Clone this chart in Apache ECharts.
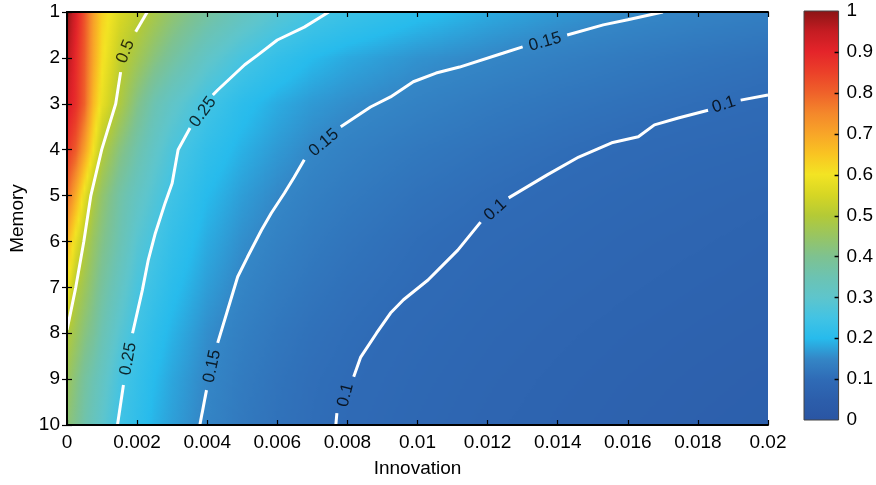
<!DOCTYPE html>
<html>
<head>
<meta charset="utf-8">
<script src="https://cdn.jsdelivr.net/npm/echarts@6/dist/echarts.min.js"></script>
<style>
  html, body { margin: 0; background: #fff; }
  #chart { width: 876px; height: 485px; }
</style>
</head>
<body>
<div id="chart"></div>
<script>
// x samples (innovation) and rows (memory) of the surface
const innovation = [0, 0.00025, 0.0005, 0.00075, 0.001, 0.0015, 0.002, 0.0025, 0.003, 0.004,
  0.005, 0.006, 0.007, 0.008, 0.01, 0.012, 0.014, 0.016, 0.018, 0.02];
const memory = [1, 2, 3, 4, 5, 6, 7, 8, 9, 10];

// values, one row per memory value
const level = [
  [1.00, 0.92, 0.82, 0.71, 0.63, 0.56, 0.52, 0.48, 0.44, 0.38, 0.33, 0.29, 0.26, 0.24, 0.21, 0.185, 0.168, 0.155, 0.145, 0.137],
  [0.97, 0.89, 0.81, 0.70, 0.61, 0.52, 0.47, 0.42, 0.38, 0.31, 0.26, 0.225, 0.20, 0.183, 0.162, 0.15, 0.138, 0.128, 0.119, 0.112],
  [0.93, 0.88, 0.80, 0.67, 0.58, 0.49, 0.41, 0.35, 0.31, 0.25, 0.21, 0.185, 0.168, 0.157, 0.142, 0.129, 0.119, 0.111, 0.104, 0.098],
  [0.87, 0.81, 0.71, 0.60, 0.50, 0.42, 0.36, 0.31, 0.27, 0.22, 0.19, 0.168, 0.151, 0.14, 0.125, 0.114, 0.105, 0.097, 0.091, 0.086],
  [0.79, 0.69, 0.58, 0.49, 0.44, 0.37, 0.32, 0.28, 0.245, 0.20, 0.172, 0.152, 0.138, 0.128, 0.113, 0.103, 0.095, 0.088, 0.082, 0.077],
  [0.68, 0.58, 0.50, 0.45, 0.41, 0.35, 0.29, 0.255, 0.225, 0.185, 0.158, 0.141, 0.128, 0.118, 0.104, 0.095, 0.088, 0.081, 0.076, 0.071],
  [0.60, 0.50, 0.46, 0.42, 0.38, 0.32, 0.265, 0.235, 0.208, 0.172, 0.147, 0.131, 0.119, 0.11, 0.099, 0.089, 0.082, 0.076, 0.071, 0.066],
  [0.50, 0.46, 0.42, 0.39, 0.35, 0.29, 0.245, 0.215, 0.192, 0.158, 0.137, 0.122, 0.111, 0.104, 0.093, 0.084, 0.077, 0.071, 0.066, 0.062],
  [0.46, 0.42, 0.38, 0.35, 0.32, 0.26, 0.228, 0.20, 0.18, 0.15, 0.13, 0.116, 0.106, 0.10, 0.089, 0.08, 0.073, 0.067, 0.062, 0.058],
  [0.43, 0.40, 0.36, 0.33, 0.30, 0.245, 0.218, 0.192, 0.174, 0.146, 0.126, 0.113, 0.104, 0.097, 0.086, 0.077, 0.07, 0.064, 0.059, 0.055]
];

// contour lines [innovation, memory], split where the labels sit
const contour050 = [
  [[0.00229, 1], [0.00196, 1.43]],
  [[0.00153, 2.31], [0.00139, 3], [0.00099, 4], [0.00068, 5], [0.00048, 6], [0.00025, 7], [0, 7.93]]
];
const contour025 = [
  [[0.00747, 1], [0.00677, 1.33], [0.006, 1.61], [0.00544, 1.94], [0.00507, 2.15], [0.0043, 2.7], [0.00416, 2.81]],
  [[0.00351, 3.53], [0.00317, 4.0], [0.003, 4.73], [0.0028, 5.16], [0.00252, 5.82], [0.00232, 6.4], [0.00215, 7.06], [0.00187, 8.0]],
  [[0.00161, 9.13], [0.00144, 10]]
];
const contour015 = [
  [[0.017, 1], [0.016, 1.17], [0.0153, 1.28], [0.01427, 1.5]],
  [[0.013, 1.76], [0.01243, 1.9], [0.0112, 2.2], [0.01053, 2.33], [0.00988, 2.52], [0.00923, 2.85], [0.00866, 3.07], [0.00781, 3.5]],
  [[0.00677, 4.22], [0.00648, 4.6], [0.0062, 4.95], [0.00583, 5.38], [0.00555, 5.75], [0.00515, 6.34], [0.00487, 6.77], [0.0047, 7.2], [0.0043, 8.21]],
  [[0.00398, 9.24], [0.00379, 10]]
];
const contour010 = [
  [[0.02, 2.81], [0.01922, 2.92]],
  [[0.01829, 3.14], [0.01744, 3.31], [0.01676, 3.46], [0.0163, 3.72], [0.01554, 3.85], [0.0146, 4.16], [0.0137, 4.55], [0.0126, 5.05]],
  [[0.0118, 5.58], [0.01115, 6.19], [0.01073, 6.51], [0.0103, 6.84], [0.0096, 7.27], [0.00923, 7.56], [0.00883, 8.0], [0.00838, 8.52], [0.00818, 8.95]],
  [[0.0077, 9.74], [0.00767, 10]]
];

// contour labels: [innovation, memory, text, angle]
const contourLabels = [
  [0.00167, 1.86, '0.5', 68],
  [0.00388, 3.18, '0.25', 54],
  [0.00175, 8.56, '0.25', 80],
  [0.01364, 1.65, '0.15', 16],
  [0.00733, 3.85, '0.15', 40],
  [0.00414, 8.72, '0.15', 78],
  [0.01874, 3.02, '0.1', 18],
  [0.01222, 5.31, '0.1', 42],
  [0.00795, 9.35, '0.1', 76]
];

const colorTicks = [0, 0.1, 0.2, 0.3, 0.4, 0.5, 0.6, 0.7, 0.8, 0.9, 1];

// colormap
const cmapPos = [0, 0.05, 0.1, 0.15, 0.2, 0.25, 0.3, 0.35, 0.4, 0.45, 0.5, 0.55, 0.6, 0.65, 0.7, 0.75, 0.8, 0.85, 0.9, 0.95, 1];
const cmapHex = ['#2a55a3', '#2c5eab', '#2f6bb6', '#3486c6', '#27bbec', '#42c3e4', '#5ec5cc', '#6cc3b2', '#7ec290', '#98c562',
  '#b4ca36', '#d6d624', '#f3e423', '#f9c422', '#f8a528', '#f4872b', '#ef612a', '#eb4029', '#e4242a', '#c41c22', '#8a1515'];
const cmapRgb = cmapHex.map(h => [1, 3, 5].map(k => parseInt(h.substr(k, 2), 16)));

function cmap(v) {
  v = Math.max(0, Math.min(1, v));
  let i = 0;
  while (i < cmapPos.length - 2 && v > cmapPos[i + 1]) i++;
  const t = (v - cmapPos[i]) / (cmapPos[i + 1] - cmapPos[i]);
  const a = cmapRgb[i], b = cmapRgb[i + 1];
  return 'rgb(' + a.map((c, k) => Math.round(c + (b[k] - c) * t)).join(',') + ')';
}

// one item per band between two memory rows, shaded along x and y
function renderBand(params, api) {
  const j = api.value(4);
  const xs = innovation.map(x => api.coord([x, memory[j]])[0]);
  const yTop = api.coord([0, memory[j]])[1];
  const yBot = api.coord([0, memory[j + 1]])[1];
  const xL = xs[0];
  const W = xs[xs.length - 1] - xL;
  const h = yBot - yTop;
  const n = Math.max(1, Math.ceil(h / 2));
  const children = [];
  for (let s = 0; s < n; s++) {
    const t = (s + 0.5) / n;
    const row = innovation.map((_, i) => level[j][i] + (level[j + 1][i] - level[j][i]) * t);
    const stops = [];
    for (let i = 0; i < xs.length - 1; i++) {
      const K = Math.max(1, Math.ceil((xs[i + 1] - xs[i]) / 3));
      for (let k = 0; k < K; k++) {
        const u = k / K;
        stops.push({
          offset: (xs[i] + u * (xs[i + 1] - xs[i]) - xL) / W,
          color: cmap(row[i] + (row[i + 1] - row[i]) * u)
        });
      }
    }
    stops.push({ offset: 1, color: cmap(row[row.length - 1]) });
    children.push({
      type: 'rect',
      shape: { x: xL, y: yTop + s * h / n, width: W, height: h / n + 0.8 },
      style: { fill: new echarts.graphic.LinearGradient(0, 0, 1, 0, stops) },
      silent: true
    });
  }
  return { type: 'group', children: children };
}

// colour bar with its inner ticks on the right edge
function renderColorBar(params, api) {
  const p0 = api.coord([0, 1]);
  const p1 = api.coord([1, 0]);
  const stops = cmapPos.map((p, i) => ({ offset: p, color: cmapHex[i] }));
  const children = [{
    type: 'rect',
    shape: { x: p0[0], y: p0[1], width: p1[0] - p0[0], height: p1[1] - p0[1] },
    style: { fill: new echarts.graphic.LinearGradient(0, 1, 0, 0, stops), stroke: '#444', lineWidth: 1 }
  }];
  colorTicks.slice(1, -1).forEach(v => {
    const y = Math.round(api.coord([1, v])[1]) + 0.5;
    children.push({
      type: 'line',
      shape: { x1: p1[0] - 4, y1: y, x2: p1[0], y2: y },
      style: { stroke: '#000', lineWidth: 1.5 }
    });
  });
  return { type: 'group', children: children };
}

const font = "'Liberation Sans', Arial, sans-serif";
const axisBase = {
  axisLine: { lineStyle: { color: '#000', width: 2 } },
  axisTick: { inside: true, length: 5, lineStyle: { color: '#000', width: 1.2 } },
  splitLine: { show: false },
  z: 10
};

const series = [{
  type: 'custom',
  xAxisIndex: 0,
  yAxisIndex: 0,
  renderItem: renderBand,
  encode: { x: [0, 1], y: [2, 3] },
  data: memory.slice(0, -1).map((m, j) => [innovation[0], innovation[innovation.length - 1], m, memory[j + 1], j]),
  clip: true,
  silent: true,
  z: 1
}];

[contour050, contour025, contour015, contour010].forEach(c => {
  c.forEach(seg => {
    series.push({
      type: 'line',
      xAxisIndex: 0,
      yAxisIndex: 0,
      data: seg,
      symbol: 'none',
      lineStyle: { color: '#fff', width: 3 },
      silent: true,
      z: 3
    });
  });
});

series.push({
  type: 'scatter',
  xAxisIndex: 0,
  yAxisIndex: 0,
  symbolSize: 1,
  itemStyle: { color: 'rgba(0,0,0,0)' },
  silent: true,
  z: 4,
  data: contourLabels.map(l => ({
    value: [l[0], l[1]],
    label: {
      show: true, position: 'inside', formatter: l[2], rotate: l[3],
      fontSize: 17, color: '#000', fontFamily: font
    }
  }))
});

series.push({
  type: 'custom',
  xAxisIndex: 2,
  yAxisIndex: 2,
  renderItem: renderColorBar,
  data: [[0, 0]],
  silent: true,
  z: 1
});

const chart = echarts.init(document.getElementById('chart'));
chart.setOption({
  animation: false,
  backgroundColor: '#fff',
  textStyle: { fontFamily: font },
  grid: [
    { left: 61, top: 12, width: 707, height: 413 },
    { left: 804, top: 11, width: 36, height: 409 }
  ],
  xAxis: [
    Object.assign({}, axisBase, {
      gridIndex: 0, type: 'value', position: 'bottom',
      min: 0, max: 0.02, interval: 0.002,
      name: 'Innovation', nameLocation: 'middle', nameGap: 34,
      nameTextStyle: { fontSize: 19, color: '#000', fontFamily: font },
      axisLabel: { fontSize: 19, color: '#000', margin: 8, fontFamily: font }
    }),
    Object.assign({}, axisBase, {
      gridIndex: 0, type: 'value', position: 'top',
      min: 0, max: 0.02, interval: 0.002,
      axisLabel: { show: false }
    }),
    { gridIndex: 1, type: 'value', min: 0, max: 1, show: false }
  ],
  yAxis: [
    Object.assign({}, axisBase, {
      gridIndex: 0, type: 'value', position: 'left', inverse: true,
      min: 1, max: 10, interval: 1,
      name: 'Memory', nameLocation: 'middle', nameGap: 40,
      nameTextStyle: { fontSize: 19, color: '#000', fontFamily: font },
      axisLabel: { fontSize: 19, color: '#000', margin: 7, fontFamily: font }
    }),
    Object.assign({}, axisBase, {
      gridIndex: 0, type: 'value', position: 'right', inverse: true,
      min: 1, max: 10, interval: 1,
      axisLabel: { show: false }
    }),
    {
      gridIndex: 1, type: 'value', position: 'right',
      min: 0, max: 1, interval: 0.1,
      axisLine: { show: false },
      axisTick: { show: false },
      axisLabel: {
        fontSize: 19, color: '#000', margin: 8, fontFamily: font,
        formatter: v => String(colorTicks.find(t => Math.abs(t - v) < 1e-9) ?? v)
      },
      splitLine: { show: false },
      z: 10
    }
  ],
  series: series
});
</script>
</body>
</html>
